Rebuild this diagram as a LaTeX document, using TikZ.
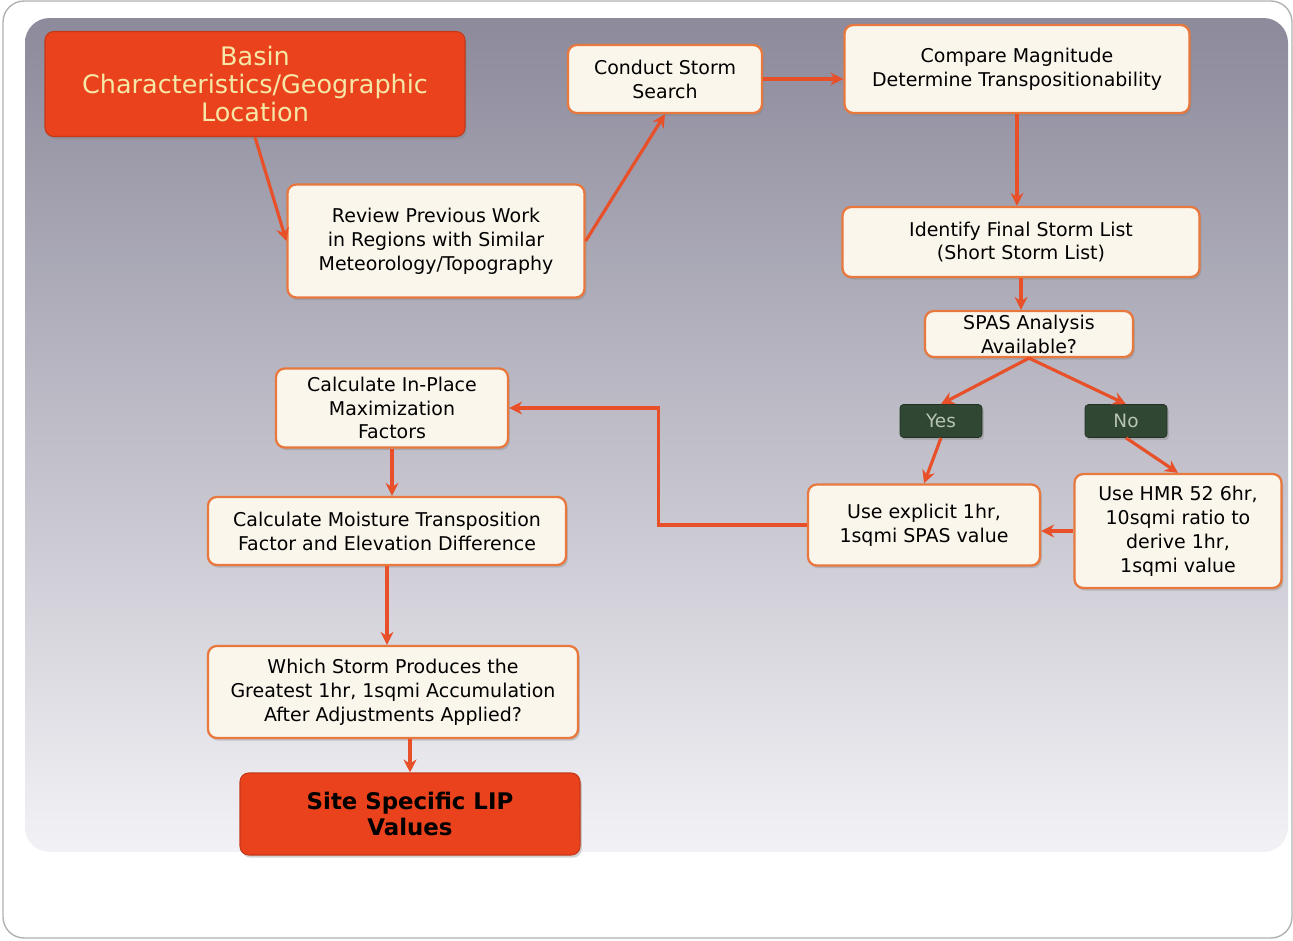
\documentclass[tikz,border=0pt]{standalone}
\usepackage{fontspec}
\setmainfont{DejaVu Sans}
\usepackage{tikz}
\usetikzlibrary{positioning, arrows.meta, calc, shadows}
\definecolor{arrowred}{HTML}{E8502A}
\definecolor{boxedge}{HTML}{E8783E}
\definecolor{boxfill}{HTML}{FBF6EC}
\definecolor{hotfill}{HTML}{E9421C}
\definecolor{hottext}{HTML}{F6E7A6}
\definecolor{answerfill}{HTML}{2F4733}
\definecolor{answertext}{HTML}{B8C4B4}
\definecolor{panelTop}{HTML}{8C8A9B}
\definecolor{panelMid}{HTML}{C2C1CF}
\definecolor{panelBottom}{HTML}{F2F2F6}
\tikzset{
  stepbox/.style={
    rectangle,
    draw=boxedge,
    fill=boxfill,
    line width=1.3pt,
    rounded corners=5pt,
    align=center,
    font=\fontsize{10.8}{13.6}\selectfont,
    inner sep=2pt,
    drop shadow={opacity=0.35, shadow xshift=1pt, shadow yshift=-1.5pt}
  },
  hotbox/.style={
    stepbox,
    draw=hotfill!85!black,
    fill=hotfill,
    line width=0.6pt
  },
  answerbox/.style={
    rectangle,
    draw=answerfill!70!black,
    fill=answerfill,
    rounded corners=2pt,
    minimum width=1.64cm,
    minimum height=0.66cm,
    text=answertext,
    font=\fontsize{10.5}{12}\selectfont,
    drop shadow={opacity=0.35, shadow xshift=1pt, shadow yshift=-1.5pt}
  },
  flowarrow/.style={
    draw=arrowred,
    line width=1.8pt,
    -{Stealth[length=2.6mm, width=2.6mm]}
  }
}

\begin{document}
\begin{tikzpicture}
  \useasboundingbox (0,0) rectangle (25.86,-18.82);
  % card and shaded panel
  \draw[gray!60, line width=0.8pt, rounded corners=12pt, fill=white] (0.06,-0.02) rectangle (25.84,-18.76);
  \shade[rounded corners=14pt, top color=panelTop, middle color=panelMid, bottom color=panelBottom]
    (0.50,-0.36) rectangle (25.76,-17.04);

  % nodes
  \node[hotbox, minimum width=8.4cm, minimum height=2.1cm, text=hottext,
        font=\fontsize{14.5}{16}\selectfont] (basin) at (5.10,-1.68) {Basin\\Characteristics/Geographic\\Location};
  \node[stepbox, minimum width=3.88cm, minimum height=1.36cm] (search) at (13.30,-1.58) {Conduct Storm\\Search};
  \node[stepbox, minimum width=6.9cm, minimum height=1.76cm] (compare) at (20.34,-1.38) {Compare Magnitude\\Determine Transpositionability};
  \node[stepbox, minimum width=5.94cm, minimum height=2.26cm] (review) at (8.72,-4.82) {Review Previous Work\\in Regions with Similar\\Meteorology/Topography};
  \node[stepbox, minimum width=7.14cm, minimum height=1.4cm] (final) at (20.42,-4.84) {Identify Final Storm List\\(Short Storm List)};
  \node[stepbox, minimum width=4.16cm, minimum height=0.92cm, inner sep=1pt] (spas) at (20.58,-6.68) {SPAS Analysis\\Available?};
  \node[answerbox] (yes) at (18.82,-8.42) {Yes};
  \node[answerbox] (no) at (22.52,-8.42) {No};
  \node[stepbox, minimum width=4.64cm, minimum height=1.62cm] (explicit) at (18.48,-10.50) {Use explicit 1hr,\\1sqmi SPAS value};
  \node[stepbox, minimum width=4.14cm, minimum height=2.28cm] (hmr) at (23.56,-10.62) {Use HMR 52 6hr,\\10sqmi ratio to\\derive 1hr,\\1sqmi value};
  \node[stepbox, minimum width=4.64cm, minimum height=1.58cm] (inplace) at (7.84,-8.16) {Calculate In-Place\\Maximization\\Factors};
  \node[stepbox, minimum width=7.16cm, minimum height=1.36cm] (moisture) at (7.74,-10.62) {Calculate Moisture Transposition\\Factor and Elevation Difference};
  \node[stepbox, minimum width=7.4cm, minimum height=1.84cm] (which) at (7.86,-13.84) {Which Storm Produces the\\Greatest 1hr, 1sqmi Accumulation\\After Adjustments Applied?};
  \node[hotbox, minimum width=6.8cm, minimum height=1.64cm,
        font=\fontsize{13}{15}\selectfont\bfseries] (site) at (8.20,-16.28) {Site Specific LIP\\Values};

  % connectors
  \draw[flowarrow] (basin.south) -- (review.west);
  \draw[flowarrow] (review.east) -- (search.south);
  \draw[flowarrow] (search.east) -- (compare.west |- search.east);
  \draw[flowarrow] (compare.south) -- (compare.south |- final.north);
  \draw[flowarrow] (final.south) -- (final.south |- spas.north);
  \draw[flowarrow] (spas.south) -- (yes.north);
  \draw[flowarrow] (spas.south) -- (no.north);
  \draw[flowarrow] (yes.south) -- (explicit.north);
  \draw[flowarrow] (no.south) -- (hmr.north);
  \draw[flowarrow] (hmr.west) -- (explicit.east |- hmr.west);
  \draw[flowarrow] (explicit.west) -- ++(-2.96,0) |- (inplace.east);
  \draw[flowarrow] (inplace.south) -- (inplace.south |- moisture.north);
  \draw[flowarrow] (moisture.south) -- (moisture.south |- which.north);
  \draw[flowarrow] (site.north |- which.south) -- (site.north);
\end{tikzpicture}
\end{document}
